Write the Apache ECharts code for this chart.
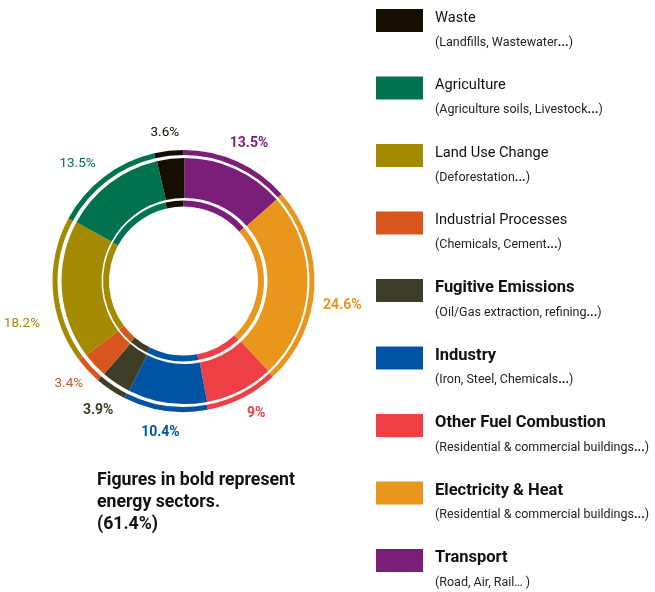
<!DOCTYPE html>
<html><head><meta charset="utf-8">
<script src="https://cdn.jsdelivr.net/npm/echarts@6/dist/echarts.min.js"></script>
<style>html,body{margin:0;padding:0;background:#fff}#c{width:655px;height:592px}</style>
</head><body><div id="c"></div>
<script>
// ---- data (clockwise from 12 o'clock) ----
const categories = ['Transport', 'Electricity & Heat', 'Other Fuel Combustion', 'Industry',
  'Fugitive Emissions', 'Industrial Processes', 'Land Use Change', 'Agriculture', 'Waste'];
const shares = [13.5, 24.6, 9, 10.4, 3.9, 3.4, 18.2, 13.5, 3.6];
const energySector = [true, true, true, true, true, false, false, false, false];
const descriptions = ['(Road, Air, Rail\u2026 )', '(Residential & commercial buildings...)',
  '(Residential & commercial buildings...)', '(Iron, Steel, Chemicals...)',
  '(Oil/Gas extraction, refining...)', '(Chemicals, Cement...)', '(Deforestation...)',
  '(Agriculture soils, Livestock...)', '(Landfills, Wastewater...)'];
const legendOrder = ['Waste', 'Agriculture', 'Land Use Change', 'Industrial Processes',
  'Fugitive Emissions', 'Industry', 'Other Fuel Combustion', 'Electricity & Heat', 'Transport'];

// ---- styles ----
const palette = ['#7a1e7a', '#e8961c', '#ee3f44', '#0054a3', '#3e3d28',
  '#d9551f', '#a38a00', '#00724d', '#170e02'];
const FONT = "Roboto, 'DejaVu Sans Condensed', sans-serif";
const CENTER = [183.5, 281];
// small label nudges (px) to mimic the reference's hand placement
const labelNudge = [[1, 6], [2, 17], [2, -8], [-1, -4], [2, -1], [0, -5], [-5, 31], [-11, 8], [-1, 8]];

const chart = echarts.init(document.getElementById('c'), null, {renderer: 'canvas'});
const pieData = categories.map((name, i) => ({name, value: shares[i], itemStyle: {color: palette[i]}}));

function ring(radius, center) {
  return {
    type: 'pie', radius, center, startAngle: 90, clockwise: true, silent: true,
    animation: false, label: {show: false}, labelLine: {show: false},
    itemStyle: {borderWidth: 0}, emphasis: {disabled: true}, data: pieData
  };
}

const energyTotal = shares.reduce((s, v, i) => s + (energySector[i] ? v : 0), 0);

const option = {
  animation: false,
  title: {
    text: 'Figures in bold represent\nenergy sectors.\n(' + energyTotal.toFixed(1) + '%)',
    left: 97, top: 470, padding: 0,
    textStyle: {fontFamily: FONT, fontSize: 17.7, fontWeight: 'bold', lineHeight: 22, color: '#111'}
  },
  legend: {
    orient: 'vertical', left: 376, top: 9, height: 1000, padding: 0,
    itemWidth: 47, itemHeight: 23, itemGap: 27.5,
    icon: 'rect', selectedMode: false,
    itemStyle: {borderWidth: 0},
    data: legendOrder.map(n => ({name: n, itemStyle: {color: palette[categories.indexOf(n)]}})),
    formatter: function (name) {
      const i = categories.indexOf(name);
      const head = '{' + (energySector[i] ? 'nb' : 'n') + '|' + name + '}';
      const parts = descriptions[i].split('...');
      let desc = '';
      parts.forEach((p, k) => {
        if (p) desc += '{d|' + p + '}';
        if (k < parts.length - 1) desc += '{dd|...}';
      });
      return head + '\n' + desc;
    },
    textStyle: {
      fontFamily: FONT, color: '#111', padding: [19, 0, 0, 7],
      rich: {
        n: {fontFamily: FONT, fontSize: 14.6, lineHeight: 25, color: '#111'},
        nb: {fontFamily: FONT, fontSize: 16.5, lineHeight: 25, color: '#111', fontWeight: 'bold'},
        d: {fontFamily: FONT, fontSize: 12.5, lineHeight: 24, color: '#222'},
        dd: {fontFamily: FONT, fontSize: 12.5, lineHeight: 24, color: '#111', fontWeight: 'bold'}
      }
    }
  },
  series: [
    ring([126, 131], CENTER),
    ring([83, 123], [184.5, 281]),
    ring([74.5, 80.5], CENTER),
    {
      type: 'pie', radius: [148, 160], center: CENTER, startAngle: 90, clockwise: true,
      silent: true, animation: false, avoidLabelOverlap: false,
      itemStyle: {color: 'rgba(0,0,0,0)', borderWidth: 0},
      emphasis: {disabled: true},
      labelLine: {show: false},
      label: {show: true, position: 'inside', rotate: 0, fontFamily: FONT, fontSize: 14,
        formatter: p => p.value + '%'},
      labelLayout: p => ({dx: labelNudge[p.dataIndex][0], dy: labelNudge[p.dataIndex][1]}),
      data: categories.map((name, i) => ({
        name, value: shares[i],
        label: {color: palette[i], fontWeight: energySector[i] ? 'bold' : 'normal',
          fontSize: energySector[i] ? 14 : 13.5}
      }))
    }
  ]
};
chart.setOption(option);
</script></body></html>
